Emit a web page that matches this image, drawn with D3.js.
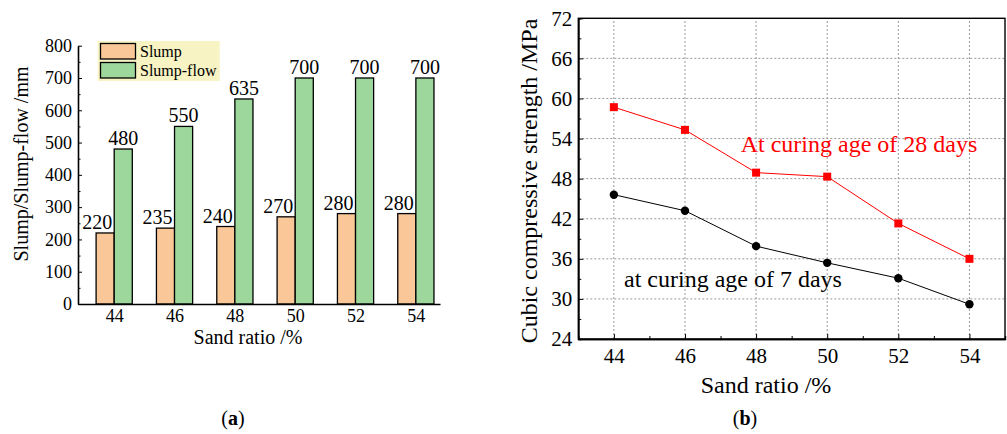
<!DOCTYPE html>
<html>
<head>
<meta charset="utf-8">
<script src="https://cdn.jsdelivr.net/npm/d3@7"></script>
<style>
  body { margin: 0; background: #fff; }
  svg text { font-family: "Liberation Serif", "Times New Roman", serif; fill: #000; }
</style>
</head>
<body>
<script>
// panel (a) data
const sandRatio = [44, 46, 48, 50, 52, 54];
const slump = [220, 235, 240, 270, 280, 280];
const slumpFlow = [480, 550, 635, 700, 700, 700];
const slumpTicks = [0, 100, 200, 300, 400, 500, 600, 700, 800];

// panel (b) data
const strength28 = [58.7, 55.3, 48.9, 48.3, 41.3, 36.0];
const strength7 = [45.6, 43.2, 37.9, 35.4, 33.1, 29.2];
const strengthTicks = [24, 30, 36, 42, 48, 54, 60, 66, 72];

const svg = d3.select("body").append("svg")
    .attr("width", 1007)
    .attr("height", 434);

// ---------- (a) bar chart ----------
const xA = d3.scaleLinear().domain([42.8, 54.8]).range([78, 440]);
const yA = d3.scaleLinear().domain([0, 800]).range([304, 45.7]);
const barW = xA(44.6) - xA(44);

const gA = svg.append("g");

gA.selectAll("rect.slump")
  .data(sandRatio)
  .join("rect")
    .attr("x", (d) => xA(d) - barW)
    .attr("y", (d, i) => yA(slump[i]))
    .attr("width", barW)
    .attr("height", (d, i) => yA(0) - yA(slump[i]))
    .attr("fill", "#fac898")
    .attr("stroke", "#000")
    .attr("stroke-width", 1.3);

gA.selectAll("rect.flow")
  .data(sandRatio)
  .join("rect")
    .attr("x", (d) => xA(d))
    .attr("y", (d, i) => yA(slumpFlow[i]))
    .attr("width", barW)
    .attr("height", (d, i) => yA(0) - yA(slumpFlow[i]))
    .attr("fill", "#9dd79c")
    .attr("stroke", "#000")
    .attr("stroke-width", 1.3);

// value labels
gA.selectAll("text.vs")
  .data(sandRatio)
  .join("text")
    .attr("x", (d) => xA(d) - barW / 2 - 8)
    .attr("y", (d, i) => yA(slump[i]) - 4)
    .attr("text-anchor", "middle")
    .attr("font-size", 20)
    .text((d, i) => slump[i]);

gA.selectAll("text.vf")
  .data(sandRatio)
  .join("text")
    .attr("x", (d) => xA(d) + barW / 2)
    .attr("y", (d, i) => yA(slumpFlow[i]) - 4)
    .attr("text-anchor", "middle")
    .attr("font-size", 20)
    .text((d, i) => slumpFlow[i]);

// axes
const yAxisA = gA.append("g")
    .attr("transform", `translate(${xA.range()[0]},0)`)
    .call(d3.axisLeft(yA).tickValues(slumpTicks).tickSize(-4).tickSizeOuter(0).tickPadding(6));
gA.append("g")
    .attr("transform", `translate(${xA.range()[0]},0)`)
    .call(d3.axisLeft(yA).tickValues(d3.range(50, 800, 100)).tickSize(-2.5).tickFormat(""))
    .call(g => g.select(".domain").remove());
yAxisA.selectAll("text").attr("font-size", 18).attr("font-family", "Liberation Serif");

const xAxisA = gA.append("g")
    .attr("transform", `translate(0,${yA(0)})`)
    .call(d3.axisBottom(xA).tickValues(sandRatio).tickSize(0).tickSizeOuter(0).tickPadding(5));
xAxisA.selectAll("text").attr("font-size", 18).attr("font-family", "Liberation Serif");
gA.selectAll(".domain").attr("stroke-width", 1.6);

gA.append("text")
    .attr("x", 248).attr("y", 344)
    .attr("text-anchor", "middle")
    .attr("font-size", 20)
    .text("Sand ratio /%");

gA.append("text")
    .attr("transform", "translate(28,164) rotate(-90)")
    .attr("text-anchor", "middle")
    .attr("font-size", 20)
    .text("Slump/Slump-flow /mm");

// legend
const legendA = gA.append("g");
legendA.append("rect")
    .attr("x", 97.7).attr("y", 41).attr("width", 122).attr("height", 40)
    .attr("fill", "#f7f3c2");
[["Slump", "#fac898"], ["Slump-flow", "#9dd79c"]].forEach(([name, col], i) => {
  legendA.append("rect")
      .attr("x", 100.5).attr("y", 43.5 + i * 19)
      .attr("width", 35).attr("height", 15.5)
      .attr("fill", col).attr("stroke", "#000").attr("stroke-width", 1.3);
  legendA.append("text")
      .attr("x", 140).attr("y", 56.5 + i * 19)
      .attr("font-size", 16)
      .text(name);
});

svg.append("text")
    .attr("x", 233).attr("y", 425)
    .attr("text-anchor", "middle")
    .attr("font-size", 20)
    .html("(<tspan font-weight='bold'>a</tspan>)");

// ---------- (b) line chart ----------
const xB = d3.scaleLinear().domain([43, 55]).range([578.3, 1005]);
const yB = d3.scaleLinear().domain([24, 72]).range([339, 18.3]);
const gB = svg.append("g");

// dotted grid
gB.append("g")
  .selectAll("line.gx")
  .data(sandRatio)
  .join("line")
    .attr("x1", d => xB(d)).attr("x2", d => xB(d))
    .attr("y1", yB(24)).attr("y2", yB(72))
    .attr("stroke", "#9a9a9a").attr("stroke-dasharray", "2,2");
gB.append("g")
  .selectAll("line.gy")
  .data(strengthTicks.slice(1, -1))
  .join("line")
    .attr("x1", xB(43)).attr("x2", xB(55))
    .attr("y1", d => yB(d)).attr("y2", d => yB(d))
    .attr("stroke", "#9a9a9a").attr("stroke-dasharray", "2,2");

// frame
gB.append("rect")
    .attr("x", xB(43)).attr("y", yB(72))
    .attr("width", xB(55) - xB(43)).attr("height", yB(24) - yB(72))
    .attr("fill", "none").attr("stroke", "#000").attr("stroke-width", 1.4);

const yAxisB = gB.append("g")
    .attr("transform", `translate(${xB(43)},0)`)
    .call(d3.axisLeft(yB).tickValues(strengthTicks).tickSize(-5).tickSizeOuter(0).tickPadding(6));
gB.append("g")
    .attr("transform", `translate(${xB(43)},0)`)
    .call(d3.axisLeft(yB).tickValues(d3.range(27, 72, 6)).tickSize(-3).tickFormat(""));
yAxisB.selectAll("text").attr("font-size", 21).attr("font-family", "Liberation Serif");

const xAxisB = gB.append("g")
    .attr("transform", `translate(0,${yB(24)})`)
    .call(d3.axisBottom(xB).tickValues(sandRatio).tickSize(-5).tickSizeOuter(0).tickPadding(8));
gB.append("g")
    .attr("transform", `translate(0,${yB(24)})`)
    .call(d3.axisBottom(xB).tickValues([45, 47, 49, 51, 53]).tickSize(-3).tickFormat(""));
xAxisB.selectAll("text").attr("font-size", 21).attr("font-family", "Liberation Serif").attr("dy", "0.78em");
gB.selectAll(".domain").attr("stroke-width", 1.4);

// lines
const lineB = d3.line().x((d, i) => xB(sandRatio[i])).y(d => yB(d));
gB.append("path")
    .datum(strength28)
    .attr("fill", "none").attr("stroke", "#ff0000").attr("stroke-width", 1)
    .attr("d", lineB);
gB.append("path")
    .datum(strength7)
    .attr("fill", "none").attr("stroke", "#000").attr("stroke-width", 1)
    .attr("d", lineB);

gB.selectAll("rect.m28")
  .data(strength28)
  .join("rect")
    .attr("x", (d, i) => xB(sandRatio[i]) - 4)
    .attr("y", d => yB(d) - 4)
    .attr("width", 8).attr("height", 8)
    .attr("fill", "#ff0000");
gB.selectAll("circle.m7")
  .data(strength7)
  .join("circle")
    .attr("cx", (d, i) => xB(sandRatio[i]))
    .attr("cy", d => yB(d))
    .attr("r", 4.2)
    .attr("fill", "#000");

gB.append("text")
    .attr("x", 740.7).attr("y", 151.7)
    .attr("font-size", 24)
    .style("fill", "#ff0000")
    .text("At curing age of 28 days");
gB.append("text")
    .attr("x", 624).attr("y", 286.7)
    .attr("font-size", 24)
    .text("at curing age of 7 days");

gB.append("text")
    .attr("x", 766).attr("y", 393)
    .attr("text-anchor", "middle")
    .attr("font-size", 24)
    .text("Sand ratio /%");

gB.append("text")
    .attr("transform", "translate(537,181) rotate(-90)")
    .attr("text-anchor", "middle")
    .attr("font-size", 24)
    .text("Cubic compressive strength /MPa");

svg.append("text")
    .attr("x", 745).attr("y", 425)
    .attr("text-anchor", "middle")
    .attr("font-size", 20)
    .html("(<tspan font-weight='bold'>b</tspan>)");
</script>
</body>
</html>
